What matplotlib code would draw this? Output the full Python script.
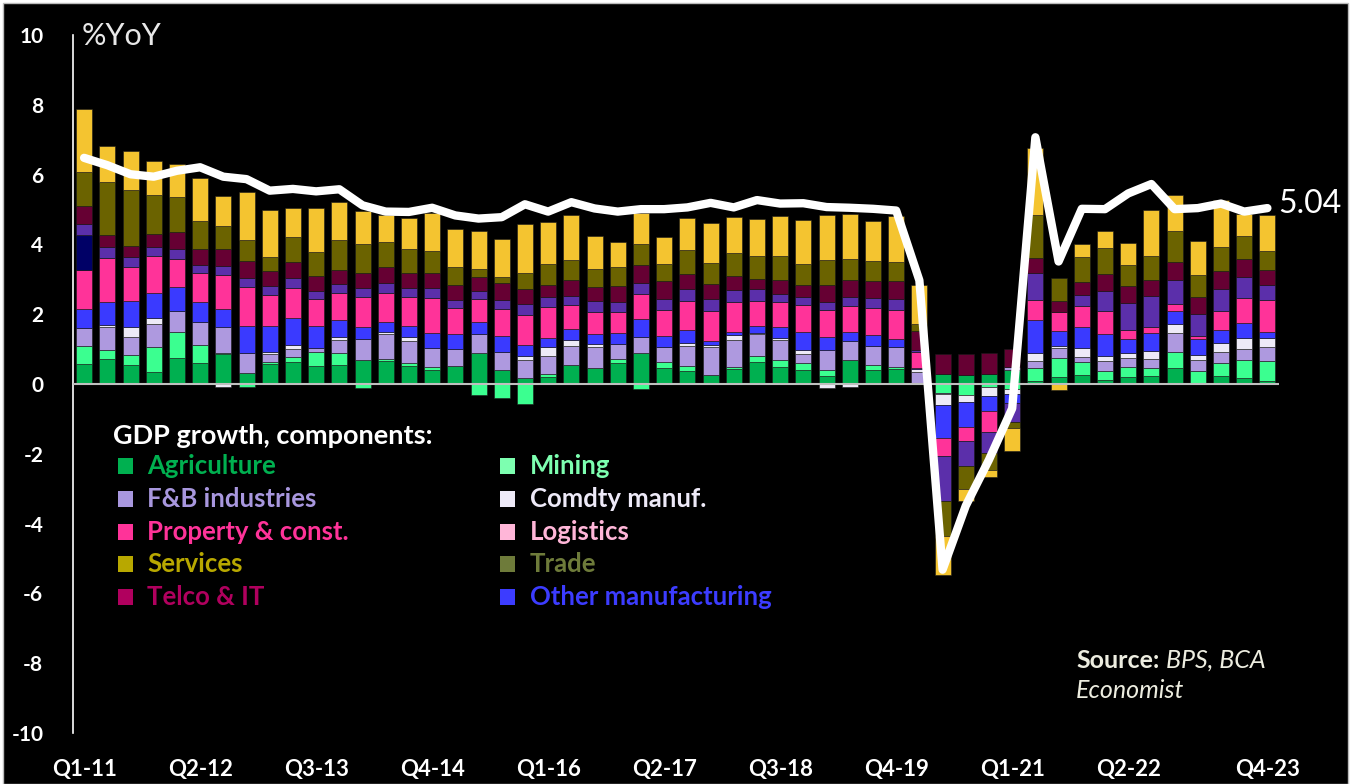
import numpy as np
import matplotlib
matplotlib.use("Agg")
import matplotlib.pyplot as plt
from matplotlib.patches import Rectangle

plt.rcParams['font.family'] = ['Lato', 'DejaVu Sans']

# quarters Q1-11 .. Q4-23
quarters = [f"Q{q}-{y}" for y in range(11, 24) for q in range(1, 5)]
tick_idx = [0, 5, 10, 15, 20, 25, 30, 35, 40, 45, 51]

gdp = [6.48, 6.27, 6.01, 5.94, 6.11, 6.21, 5.94, 5.87, 5.54, 5.59, 5.52, 5.58,
       5.12, 4.94, 4.93, 5.05, 4.83, 4.74, 4.78, 5.15, 4.94, 5.21, 5.03, 4.94,
       5.01, 5.01, 5.06, 5.19, 5.06, 5.27, 5.17, 5.18, 5.07, 5.05, 5.02, 4.97,
       2.97, -5.32, -3.49, -2.17, -0.70, 7.07, 3.51, 5.02, 5.01, 5.46, 5.73, 5.01,
       5.04, 5.17, 4.94, 5.04]

agri = [.57, .71, .55, .34, .74, .59, .85, .32, .56, .64, .52, .54, .68, .67, .53, .39,
        .52, .88, .40, .18, .19, .54, .45, .61, .90, .46, .38, .27, .43, .63, .49, .40,
        .23, .69, .40, .43, 0, .29, .26, .29, .40, .09, .19, .26, .12, .21, .24, .47,
        0, .24, .16, .10]
mining = [.52, .27, .29, .71, .74, .53, .03, -.10, .08, .12, .40, .35, -.12, .06, .06, .11,
          0, -.32, -.40, -.57, .10, 0, 0, .10, -.15, .16, .14, 0, .07, .18, .20, .19,
          .16, 0, .15, .07, 0, -.25, -.32, -.08, -.15, .36, .56, .36, .26, .27, .23, .46,
          .38, .35, .52, .55]
fnb = [.52, .65, .50, .68, .62, .66, .74, .57, .22, .25, .12, .36, .60, .70, .64, .53,
       .49, .55, .52, .51, .51, .55, .62, .45, .46, .43, .58, .79, .76, .62, .57, .28,
       .57, .53, .54, .56, .35, -.05, 0, 0, .10, .21, .27, .15, .27, .27, .25, .53,
       .31, .33, .31, .41]
comdty = [0, .05, .28, .16, 0, 0, -.08, 0, .05, .11, 0, .10, 0, .07, .11, 0,
          0, 0, 0, .12, .27, .16, .09, 0, 0, 0, .08, .06, .15, .04, .06, .10,
          -.12, -.10, 0, 0, .07, -.29, -.20, -.27, -.15, .24, .07, .25, .16, .15, .23, .26,
          .15, .26, .32, .27]
other_manuf = [.53, .68, .77, .71, .69, .56, .52, .78, .76, .78, .63, .48, .36, .29, .33, .43,
               .42, .36, .46, .32, .25, .32, .26, .30, .50, .32, .38, .11, .09, .18, .30, .53,
               .38, .28, .32, .22, .05, -.96, -.72, -.42, -.25, .92, .43, .60, .62, .39, .52, .37,
               .45, .38, .43, .15]
property_ = [1.13, 1.24, .97, 1.08, .80, .84, .97, 1.11, .87, .85, .77, .78, .85, .82, .82, .99,
             .74, .64, .78, .85, .88, .69, .63, .59, .71, .74, .81, .87, .84, .74, .73, .75,
             .78, .73, .76, .84, .46, -.52, -.40, -.61, 0, .59, .53, .61, .67, .27, .15, .19,
             .08, .54, .72, .92]
other = [1.00] + [0] * 51
logistics = [.32, .33, .29, .25, .29, .23, .26, .27, .26, .30, .23, .26, .27, .27, .27, .29,
             .24, .23, .25, .30, .29, .26, .33, .30, .31, .32, .34, .33, .35, .33, .24, .23,
             .22, .26, .29, .31, .05, -1.29, -.71, -.59, -.55, .78, 0, .32, .57, .75, .90, .69,
             .65, .62, .60, .43]
telco = [.52, .33, .30, .37, .47, .47, .51, .47, .43, .46, .42, .41, .43, .47, .43, .45,
         .43, .41, .48, .44, .36, .46, .41, .47, .52, .53, .45, .43, .40, .28, .40, .36,
         .49, .48, .48, .53, .53, .57, .60, .59, .50, .42, .32, .38, .48, .51, .45, .54,
         .46, .53, .53, .45]
trade = [.96, 1.52, 1.60, 1.12, 1.02, .78, .64, .60, .42, .69, .69, .84, .82, .72, .69, .62,
         .51, .23, .19, .46, .59, .57, .50, .52, .61, .49, .69, .60, .66, .68, .69, .59,
         .71, .61, .58, .55, .22, -1.00, -.67, -.48, -.16, 1.23, .66, .72, .74, .59, .70, .86,
         .64, .68, .66, .54]
services = [1.80, 1.04, 1.14, .96, .94, 1.25, .88, 1.39, 1.34, .84, 1.26, 1.10, .95, .76, .88, 1.09,
            1.08, 1.09, 1.08, 1.40, 1.19, 1.28, .96, .74, .90, .76, .91, 1.14, 1.03, 1.05, 1.14, 1.26,
            1.30, 1.28, 1.16, 1.29, 1.12, -1.11, -.32, -.21, -.65, 1.91, -.17, .35, .50, .63, 1.33, 1.05,
            .97, 1.34, .62, 1.03]

series = [agri, mining, fnb, comdty, other_manuf, property_, other, logistics, telco, trade, services]
bar_colors = ['#00B050', '#3BFF90', '#AE99DF', '#EDEAF7', '#3A3AFF', '#FF3399',
              '#000066', '#5B2FAA', '#660033', '#6B6300', '#F4C430']

legend_labels = ['Agriculture', 'Mining', 'F&B industries', 'Comdty manuf.',
                 'Property & const.', 'Logistics', 'Services', 'Trade',
                 'Telco & IT', 'Other manufacturing']
legend_colors = ['#00B050', '#7DFFB0', '#A897DE', '#EEEAF8', '#FF3399', '#FFB6D8',
                 '#B8A800', '#6E7B3A', '#B0005E', '#3C3CFF']

W, H = 1357, 784
fig = plt.figure(figsize=(W / 100, H / 100), dpi=100, facecolor='white')
fig.patches.append(Rectangle((3 / W, 0), 1345 / W, 781 / H, transform=fig.transFigure,
                             facecolor='black', edgecolor='#BBBBBB', lw=1, zorder=-10))

def px(x, y):
    return x / W, 1 - y / H

ax = fig.add_axes([72.5 / W, 1 - 733 / H, 1206.5 / W, 698 / H])
ax.set_facecolor('black')
ax.patch.set_alpha(0)

x = np.arange(len(quarters))
pos_bottom = np.zeros(len(x))
neg_bottom = np.zeros(len(x))
for vals, col in zip(series, bar_colors):
    v = np.array(vals, dtype=float)
    bottom = np.where(v >= 0, pos_bottom, neg_bottom)
    ax.bar(x, v, bottom=bottom, width=0.69, color=col, edgecolor='#1a1a1a', linewidth=0.4, zorder=2)
    pos_bottom += np.where(v > 0, v, 0)
    neg_bottom += np.where(v < 0, v, 0)

ax.axhline(0, color='#BFBFBF', lw=1.5, zorder=3)
ax.plot(x, gdp, color='white', lw=6, solid_joinstyle='round', solid_capstyle='round', zorder=4)

ax.set_xlim(-0.5, len(x) - 0.5)
ax.set_ylim(-10, 10)
ax.set_yticks(np.arange(-10, 11, 2))
ax.set_yticklabels([str(v) for v in range(-10, 11, 2)])
ax.set_xticks(tick_idx)
ax.set_xticklabels([quarters[i] for i in tick_idx])
ax.tick_params(axis='y', length=0, pad=21, labelsize=15, labelcolor='white')
ax.tick_params(axis='x', length=0, pad=19, labelsize=16, labelcolor='white')
for lab in ax.get_xticklabels() + ax.get_yticklabels():
    lab.set_fontweight('bold')
for s in ['top', 'right', 'bottom']:
    ax.spines[s].set_visible(False)
ax.spines['left'].set_color('white')
ax.spines['left'].set_linewidth(1.2)

fig.text(*px(82, 36), '%YoY', color='#E8E8E8', fontsize=22, va='center', ha='left')
ax.annotate(f'{gdp[-1]:.2f}', (x[-1], gdp[-1]), xytext=(8, 3), textcoords='offset points',
            color='white', fontsize=23, va='center', ha='left')

# legend
fig.text(*px(113, 436), 'GDP growth, components:', color='white', fontsize=19.5,
         fontweight='bold', va='center', ha='left')
row_y = [466, 499, 532, 564, 597]
for i, (lab, col) in enumerate(zip(legend_labels, legend_colors)):
    r, c = divmod(i, 2)
    mx, tx = (118, 147) if c == 0 else (500, 530)
    fig.patches.append(Rectangle(px(mx, row_y[r] + 8), 15 / W, 16 / H, transform=fig.transFigure,
                                 facecolor=col, edgecolor='none'))
    fig.text(*px(tx, row_y[r]), lab, color=col, fontsize=18.5, fontweight='bold',
             va='center', ha='left')

fig.text(*px(1076, 660), 'Source:', color='#EDEDE0', fontsize=18, fontweight='bold',
         va='center', ha='left')
fig.text(*px(1166, 660), 'BPS, BCA', color='#EDEDE0', fontsize=18, style='italic',
         va='center', ha='left')
fig.text(*px(1076, 691), 'Economist', color='#EDEDE0', fontsize=18, style='italic',
         va='center', ha='left')

fig.savefig('out.png', dpi=100, facecolor=fig.get_facecolor())
